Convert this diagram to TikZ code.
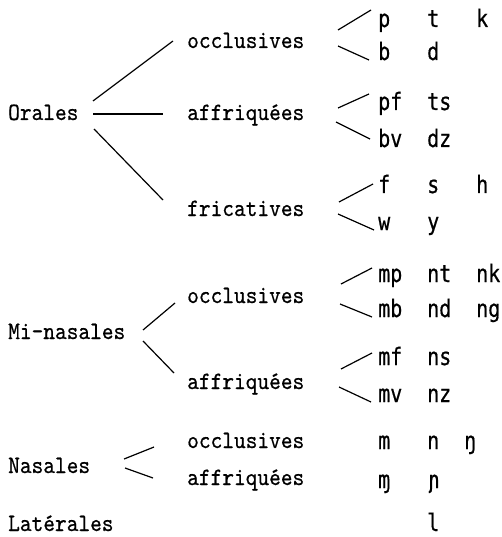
\documentclass[tikz,border=0pt]{standalone}
\usepackage{fontspec}
\usepackage{graphicx}
\newfontfamily\labfont[FakeBold=0.6]{lmmono10-regular.otf}
\newfontfamily\ipafont[FakeBold=0.7]{DejaVu Sans Mono}
\newcommand\labtxt[1]{\scalebox{1}[1.12]{\fontsize{22.3}{24}\selectfont\labfont #1}}
\newcommand\phon[1]{\scalebox{1}[1.2]{\fontsize{20}{22}\selectfont\ipafont #1}}
\begin{document}
\begin{tikzpicture}[x=1pt,y=-1pt,
  lab/.style={anchor=base west,inner sep=0pt,text depth=0pt},
  br/.style={line width=1.2pt}]
\useasboundingbox (0,0) rectangle (501,537);
\fill[white] (0,0) rectangle (501,537);
% left column
\node[lab] (orales) at (8,120) {\labtxt{Orales}};
\node[lab] (minas) at (8,339) {\labtxt{Mi-nasales}};
\node[lab] (nas) at (8,473) {\labtxt{Nasales}};
\node[lab] (lat) at (8,531) {\labtxt{Latérales}};
% middle column
\node[lab] (occA) at (187,48) {\labtxt{occlusives}};
\node[lab] (affA) at (187,120) {\labtxt{affriquées}};
\node[lab] (fri) at (187,216) {\labtxt{fricatives}};
\node[lab] (occB) at (187,303) {\labtxt{occlusives}};
\node[lab] (affB) at (187,389) {\labtxt{affriquées}};
\node[lab] (occC) at (187,448) {\labtxt{occlusives}};
\node[lab] (affC) at (187,485) {\labtxt{affriquées}};
% phonemes
\node[lab] (p1) at (378,27) {\phon{p}};
\node[lab] (p2) at (427,27) {\phon{t}};
\node[lab] (p3) at (476,27) {\phon{k}};
\node[lab] (b1) at (378,60) {\phon{b}};
\node[lab] (b2) at (427,60) {\phon{d}};
\node[lab] (pf1) at (378,110) {\phon{pf}};
\node[lab] (pf2) at (427,110) {\phon{ts}};
\node[lab] (bv1) at (378,147) {\phon{bv}};
\node[lab] (bv2) at (427,147) {\phon{dz}};
\node[lab] (f1) at (378,193) {\phon{f}};
\node[lab] (f2) at (427,193) {\phon{s}};
\node[lab] (f3) at (476,193) {\phon{h}};
\node[lab] (w1) at (378,230) {\phon{w}};
\node[lab] (w2) at (427,230) {\phon{y}};
\node[lab] (mp1) at (378,282) {\phon{mp}};
\node[lab] (mp2) at (427,282) {\phon{nt}};
\node[lab] (mp3) at (476,282) {\phon{nk}};
\node[lab] (mb1) at (378,317) {\phon{mb}};
\node[lab] (mb2) at (427,317) {\phon{nd}};
\node[lab] (mb3) at (476,317) {\phon{ng}};
\node[lab] (mf1) at (378,365) {\phon{mf}};
\node[lab] (mf2) at (427,365) {\phon{ns}};
\node[lab] (mv1) at (378,402) {\phon{mv}};
\node[lab] (mv2) at (427,402) {\phon{nz}};
\node[lab] (n1) at (378,449) {\phon{m}};
\node[lab] (n2) at (427,449) {\phon{n}};
\node[lab] (n3) at (464,449) {\phon{ŋ}};
\node[lab] (na1) at (378,488) {\phon{ɱ}};
\node[lab] (na2) at (427,488) {\phon{ɲ}};
\node[lab] (l1) at (427,531) {\phon{l}};
% connector end points
\coordinate (oA) at (93,101);  \coordinate (oAe) at (173,41);
\coordinate (oB) at (93,114);  \coordinate (oBe) at (163,114);
\coordinate (oC) at (94,129);  \coordinate (oCe) at (163,200);
\coordinate (a1) at (338,30);  \coordinate (a1e) at (371,10);
\coordinate (a2) at (338,46);  \coordinate (a2e) at (369,60);
\coordinate (b1s) at (338,108); \coordinate (b1e) at (369,94);
\coordinate (b2s) at (336,122); \coordinate (b2e) at (370,139);
\coordinate (c1) at (339,202); \coordinate (c1e) at (373,184);
\coordinate (c2) at (338,214); \coordinate (c2e) at (374,230);
\coordinate (mA) at (143,330); \coordinate (mAe) at (175,303);
\coordinate (mB) at (143,341); \coordinate (mBe) at (174,373);
\coordinate (d1) at (341,284); \coordinate (d1e) at (372,268);
\coordinate (d2) at (340,304); \coordinate (d2e) at (372,317);
\coordinate (e1) at (341,369); \coordinate (e1e) at (372,353);
\coordinate (e2) at (339,387); \coordinate (e2e) at (371,402);
\coordinate (nA) at (124,459); \coordinate (nAe) at (154,447);
\coordinate (nB) at (125,468); \coordinate (nBe) at (153,478);
\foreach \s/\e in {oA/oAe,oB/oBe,oC/oCe,a1/a1e,a2/a2e,b1s/b1e,b2s/b2e,c1/c1e,c2/c2e,mA/mAe,mB/mBe,d1/d1e,d2/d2e,e1/e1e,e2/e2e,nA/nAe,nB/nBe}
  \draw[br] (\s) -- (\e);
\end{tikzpicture}
\end{document}
